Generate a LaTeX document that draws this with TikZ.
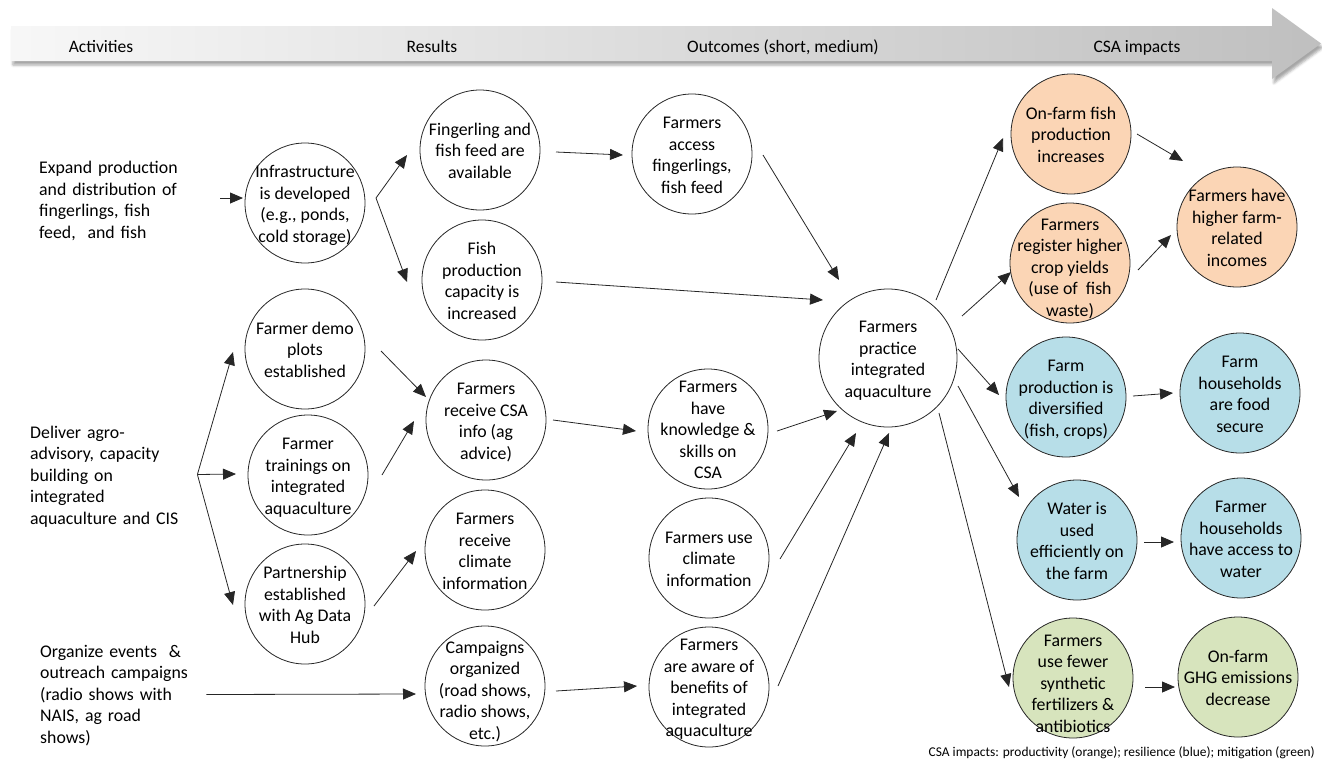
\documentclass[tikz,border=0pt]{standalone}
\usepackage{fontspec}
\setmainfont{Carlito}
\usetikzlibrary{arrows.meta,shadows.blur}

\definecolor{prodfill}{HTML}{FBD5B5}
\definecolor{resfill}{HTML}{B7DEE8}
\definecolor{mitfill}{HTML}{D7E4BD}
\definecolor{inkline}{HTML}{262626}

\newcommand{\bodyfont}{\fontsize{17.8}{21.5}\selectfont}
% centred multi-line text that does not enlarge the circle around it
\newcommand{\ctext}[1]{\smash{\raisebox{-6.8pt}{\makebox[0pt]{\begin{tabular}{@{}c@{}}#1\end{tabular}}}}}

\tikzset{
  circ/.style={circle, draw=inkline, line width=0.8pt, minimum size=120pt,
    inner sep=0pt, outer sep=0pt, font=\bodyfont},
  bigcirc/.style={circ, minimum size=138pt},
  prod/.style={fill=prodfill},
  res/.style={fill=resfill},
  mit/.style={fill=mitfill},
  activity/.style={anchor=west, align=left, text width=160pt, inner sep=0pt, font=\bodyfont},
  hdr/.style={font=\fontsize{17.5}{21}\selectfont, inner sep=0pt, anchor=base},
  arr/.style={draw=inkline, line width=0.8pt, -{Triangle[length=13pt,width=11pt]}}
}

\begin{document}
\begin{tikzpicture}[x=1pt,y=-1pt]
\useasboundingbox (0,0) rectangle (1322,764);

% timeline arrow across the top
\path[blur shadow={shadow xshift=2pt, shadow yshift=-4pt, shadow blur radius=2.5pt, shadow opacity=35},
      left color=white!97!black, right color=black!25]
  (11,26) -- (1272,26) -- (1272,8) -- (1321,43.5) -- (1272,79) -- (1272,61) -- (11,61) -- cycle;
\node[hdr] (h1) at (101,52) {Activities};
\node[hdr] (h2) at (432,52) {Results};
\node[hdr] (h3) at (783,52) {Outcomes (short, medium)};
\node[hdr] (h4) at (1137,52) {CSA impacts};

% activities
\node[activity] (exp) at (39,201) {Expand production\\and distribution of\\fingerlings, fish\\feed,\ \ and fish};
\node[activity] (del) at (30,476.5) {Deliver agro-\\advisory, capacity\\building on\\integrated\\aquaculture and CIS};
\node[activity] (org) at (40,695.5) {Organize events\ \ \&\\outreach campaigns\\(radio shows with\\NAIS, ag road\\shows)};

% results
\node[circ] (inf) at (305,203) {\ctext{Infrastructure\\is developed\\(e.g., ponds,\\cold storage)}};
\node[circ] (demo) at (305,349) {\ctext{Farmer demo\\plots\\established}};
\node[circ] (train) at (308,475) {\ctext{Farmer\\trainings on\\integrated\\aquaculture}};
\node[circ] (part) at (305,604) {\ctext{Partnership\\established\\with Ag Data\\Hub}};
\node[circ] (fing) at (480,150) {\ctext{Fingerling and\\fish feed are\\available}};
\node[circ] (cap) at (482,280) {\ctext{Fish\\production\\capacity is\\increased}};
\node[circ] (rcsa) at (486,420) {\ctext{Farmers\\receive CSA\\info (ag\\advice)}};
\node[circ] (rclim) at (485,550) {\ctext{Farmers\\receive\\climate\\information}};
\node[circ] (camp) at (485,686) {\raisebox{-7pt}{\ctext{Campaigns\\organized\\(road shows,\\radio shows,\\etc.)}}};

% outcomes
\node[circ] (acc) at (692,154) {\ctext{Farmers\\access\\fingerlings,\\fish feed}};
\node[circ] (know) at (708,429) {\ctext{Farmers\\have\\knowledge \&\\skills on\\CSA}};
\node[circ] (useclim) at (709,558) {\ctext{Farmers use\\climate\\information}};
\node[circ] (aware) at (709,687) {\ctext{Farmers\\are aware of\\benefits of\\integrated\\aquaculture}};
\node[bigcirc] (prac) at (888,358) {\ctext{Farmers\\practice\\integrated\\aquaculture}};

% CSA impacts
\node[circ,prod] (fish) at (1071,134) {\ctext{On-farm fish\\production\\increases}};
\node[circ,prod] (reg) at (1070,263) {\raisebox{-7pt}{\ctext{Farmers\\register higher\\crop yields\\(use of\ \ fish\\waste)}}};
\node[circ,prod] (inc) at (1237,227) {\ctext{Farmers have\\higher farm-\\related\\incomes}};
\node[circ,res] (div) at (1066,397) {\ctext{Farm\\production is\\diversified\\(fish, crops)}};
\node[circ,res] (food) at (1240,393) {\ctext{Farm\\households\\are food\\secure}};
\node[circ,res] (water) at (1077,540) {\ctext{Water is\\used\\efficiently on\\the farm}};
\node[circ,res] (wacc) at (1241,538) {\ctext{Farmer\\households\\have access to\\water}};
\node[circ,mit] (fewer) at (1073,678) {\raisebox{-9pt}{\ctext{Farmers\\use fewer\\synthetic\\fertilizers \&\\antibiotics}}};
\node[circ,mit] (ghg) at (1238,677) {\ctext{On-farm\\GHG emissions\\decrease}};

\node[anchor=east, inner sep=0pt, font=\fontsize{13.4}{15}\selectfont] (legend) at (1315,753)
  {CSA impacts: productivity (orange); resilience (blue); mitigation (green)};

% branching points
\coordinate (infout) at ([shift={(11,-5)}]inf.east);
\coordinate (fork) at ([shift={(7,-2)}]del.east);

% activities -> results
\draw[arr] ([shift={(21,-3)}]exp.east) -- ([shift={(-62,-5)}]inf.center);
\draw[arr] (infout) -- ([shift={(-73,5)}]fing.center);
\draw[arr] (infout) -- ([shift={(-75,2)}]cap.center);
\draw[arr] (fork) -- ([shift={(-72,3)}]demo.center);
\draw[arr] (fork) -- ([shift={(-72,-1)}]train.center);
\draw[arr] (fork) -- ([shift={(-72,1)}]part.center);
\draw[arr] ([shift={(6,-1)}]org.east) -- ([shift={(-69,8)}]camp.center);
\draw[arr] ([shift={(76,2)}]demo.center) -- ([shift={(-60,-23)}]rcsa.center);
\draw[arr] ([shift={(74,0)}]train.center) -- ([shift={(-72,1)}]rcsa.center);
\draw[arr] ([shift={(69,2)}]part.center) -- ([shift={(-69,1)}]rclim.center);

% results -> outcomes
\draw[arr] ([shift={(76,2)}]fing.center) -- ([shift={(-69,1)}]acc.center);
\draw[arr] ([shift={(67,0)}]rcsa.center) -- ([shift={(-72,2)}]know.center);
\draw[arr] ([shift={(71,5)}]camp.center) -- ([shift={(-72,-1)}]aware.center);
\draw[arr] ([shift={(71,1)}]acc.center) -- ([shift={(-49,-78)}]prac.center);
\draw[arr] ([shift={(74,2)}]cap.center) -- ([shift={(-65,-58)}]prac.center);
\draw[arr] ([shift={(69,2)}]know.center) -- ([shift={(-51,53)}]prac.center);
\draw[arr] ([shift={(71,1)}]useclim.center) -- ([shift={(-32,75)}]prac.center);
\draw[arr] ([shift={(69,-1)}]aware.center) -- ([shift={(1,75)}]prac.center);

% outcomes -> CSA impacts
\draw[arr] ([shift={(48,-58)}]prac.center) -- ([shift={(-68,4)}]fish.center);
\draw[arr] ([shift={(74,-42)}]prac.center) -- ([shift={(-59,9)}]reg.center);
\draw[arr] ([shift={(70,-9)}]prac.center) -- ([shift={(-67,-2)}]div.center);
\draw[arr] ([shift={(70,28)}]prac.center) -- ([shift={(-58,-43)}]water.center);
\draw[arr] ([shift={(51,55)}]prac.center) -- ([shift={(-64,9)}]fewer.center);
\draw[arr] ([shift={(66,0)}]fish.center) -- ([shift={(-54,-66)}]inc.center);
\draw[arr] ([shift={(68,7)}]reg.center) -- ([shift={(-66,8)}]inc.center);
\draw[arr] ([shift={(67,-1)}]div.center) -- ([shift={(-67,0)}]food.center);
\draw[arr] ([shift={(67,2)}]water.center) -- ([shift={(-67,4)}]wacc.center);
\draw[arr] ([shift={(72,9)}]fewer.center) -- ([shift={(-63,10)}]ghg.center);
\end{tikzpicture}
\end{document}
